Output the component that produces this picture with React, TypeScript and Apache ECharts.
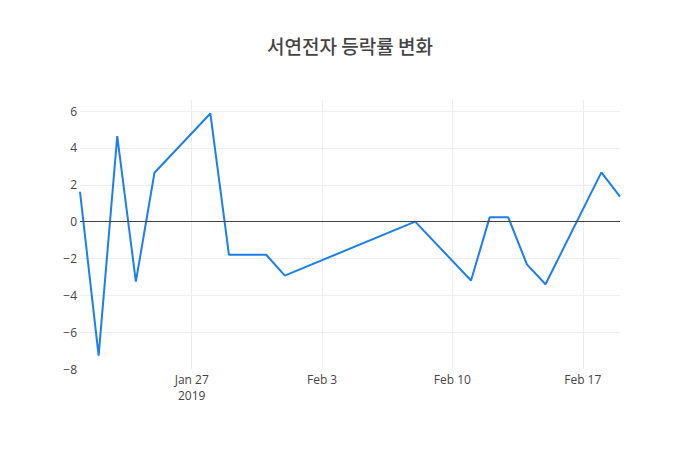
import React, { useEffect, useRef } from "react";
import * as echarts from "echarts";

const TITLE = "서연전자 등락률 변화";
const dates = [
  "2019-01-21", "2019-01-22", "2019-01-23", "2019-01-24", "2019-01-25",
  "2019-01-28", "2019-01-29", "2019-01-31", "2019-02-01", "2019-02-08",
  "2019-02-11", "2019-02-12", "2019-02-13", "2019-02-14", "2019-02-15",
  "2019-02-18", "2019-02-19",
];
const changes = [
  1.62, -7.27, 4.64, -3.26, 2.65,
  5.87, -1.8, -1.8, -2.93, 0.0,
  -3.2, 0.23, 0.23, -2.32, -3.4,
  2.67, 1.35,
];
const tickDates = ["2019-01-27", "2019-02-03", "2019-02-10", "2019-02-17"];
const tickLabels = ["Jan 27\n2019", "Feb 3", "Feb 10", "Feb 17"];
const rangeStart = "2019-01-21";
const rangeEnd = "2019-02-19";

function dayList(a: string, b: string): string[] {
  const out: string[] = [];
  const d = new Date(a + "T00:00:00Z");
  const e = new Date(b + "T00:00:00Z");
  while (d.getTime() <= e.getTime()) {
    out.push(d.toISOString().slice(0, 10));
    d.setUTCDate(d.getUTCDate() + 1);
  }
  return out;
}

export default function App() {
  const ref = useRef<HTMLDivElement>(null);
  useEffect(() => {
    document.body.style.margin = "0";
    const chart = echarts.init(ref.current!, null, { renderer: "svg" });
    const cats = dayList(rangeStart, rangeEnd);
    const tickIdx = new Set(tickDates.map((d) => cats.indexOf(d)));
    const font = "'Open Sans', 'Noto Sans', sans-serif";
    chart.setOption({
      animation: false,
      backgroundColor: "#fff",
      title: {
        text: TITLE,
        left: "center",
        top: 31,
        textStyle: {
          fontFamily: "'Noto Sans CJK KR', 'Open Sans', sans-serif",
          fontSize: 19,
          fontWeight: 500,
          color: "#444",
        },
      },
      grid: { left: 80, right: 80, top: 100, bottom: 81, containLabel: false },
      xAxis: {
        type: "category",
        data: cats,
        boundaryGap: false,
        axisLine: { show: false },
        axisTick: { show: false },
        splitLine: {
          show: true,
          interval: (i: number) => tickIdx.has(i),
          lineStyle: { color: "#eee", width: 1 },
        },
        axisLabel: {
          interval: (i: number) => tickIdx.has(i),
          formatter: (v: string) => {
            const k = tickDates.indexOf(v);
            return k >= 0 ? tickLabels[k] : "";
          },
          color: "#444",
          fontSize: 12,
          fontFamily: font,
          lineHeight: 16,
          margin: 2,
        },
      },
      yAxis: {
        type: "value",
        min: -8,
        max: 6.6,
        interval: 2,
        axisLine: { show: false },
        axisTick: { show: false },
        splitLine: {
          show: true,
          showMaxLine: false,
          showMinLine: false,
          lineStyle: { color: "#eee", width: 1 },
        },
        axisLabel: {
          showMaxLabel: false,
          color: "#444",
          fontSize: 12,
          fontFamily: font,
          margin: 3,
          formatter: (v: number) =>
            Math.abs(v - 6.6) < 1e-6 ? "" : v < 0 ? "\u2212" + Math.abs(v) : String(v),
        },
      },
      series: [
        {
          type: "line",
          data: dates.map((d, i) => [d, changes[i]]),
          symbol: "none",
          lineStyle: { color: "#1a7ff0", width: 2 },
          itemStyle: { color: "#1a7ff0" },
          markLine: {
            silent: true,
            symbol: "none",
            label: { show: false },
            lineStyle: { color: "#444", width: 1, type: "solid" },
            data: [{ yAxis: 0 }],
          },
          z: 3,
        },
      ],
    });
    return () => chart.dispose();
  }, []);
  return <div ref={ref} style={{ width: 700, height: 450 }} />;
}
